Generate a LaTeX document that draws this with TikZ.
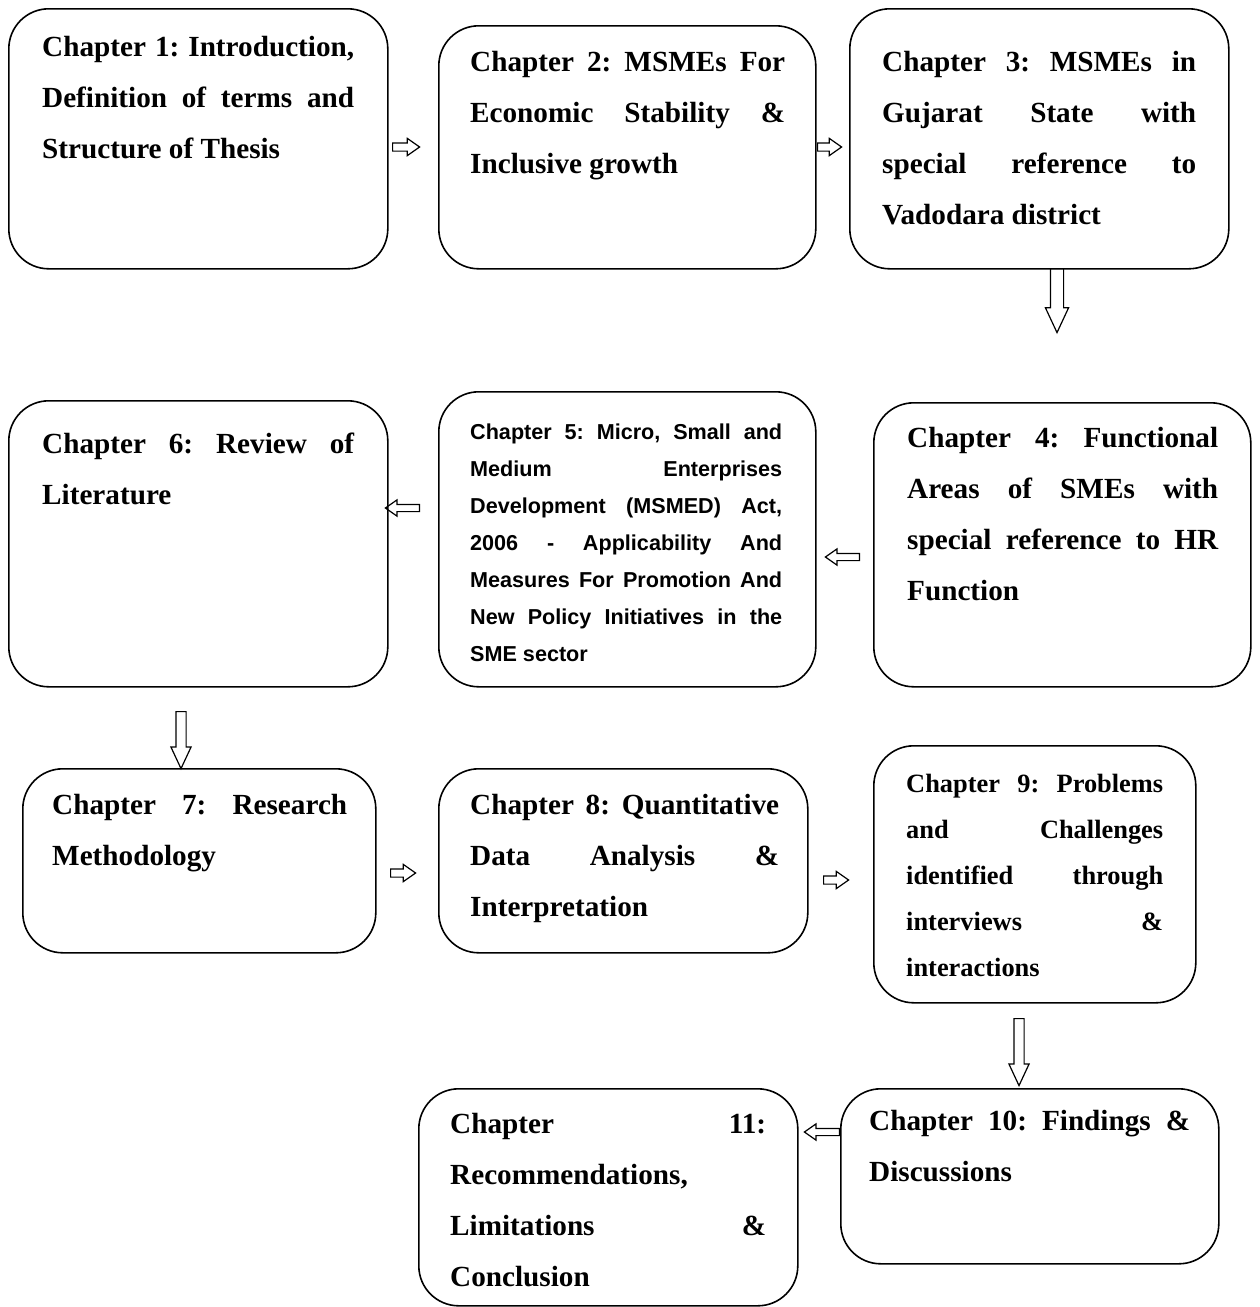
\documentclass[tikz,border=0pt]{standalone}
\usepackage{fontspec}
\setmainfont{Liberation Serif}
\newfontfamily\arialf{Liberation Sans}
\usetikzlibrary{shapes.arrows}
\hyphenpenalty=10000
\exhyphenpenalty=10000
\tolerance=10000
\hbadness=10000
\hfuzz=50pt
\frenchspacing
\begin{document}
\begin{tikzpicture}[x=1pt,y=-1pt,
  box/.style={draw, line width=1.6pt, rounded corners=40pt, anchor=north west, inner sep=0pt},
  txt/.style={anchor=north west, inner sep=0pt, align=justify, font=\bfseries\frenchspacing\fontsize{29.2}{51}\selectfont},
  txtsans/.style={anchor=north west, inner sep=0pt, align=justify, font=\arialf\bfseries\frenchspacing\fontsize{21.6}{37}\selectfont},
  txtsmall/.style={anchor=north west, inner sep=0pt, align=justify, font=\bfseries\frenchspacing\fontsize{26.4}{46}\selectfont},
  harr/.style={single arrow, draw, line width=1.2pt, inner sep=3.5pt, single arrow head extend=4.5pt, single arrow tip angle=70, minimum width=16pt, anchor=tail},
  larr/.style={harr, shape border rotate=180, minimum width=15pt, inner sep=3pt},
  varr/.style={single arrow, draw, line width=1.2pt, inner sep=5pt, single arrow head extend=5pt, single arrow tip angle=50, minimum width=20pt, shape border rotate=270, anchor=tail}
]
\useasboundingbox (0,0) rectangle (1259,1307);
% boxes
\node[box, minimum width=379pt, minimum height=260pt] (b1) at (8,8) {};
\node[box, minimum width=377pt, minimum height=243pt] (b2) at (438,25) {};
\node[box, minimum width=379pt, minimum height=260pt] (b3) at (849,8) {};
\node[box, minimum width=377pt, minimum height=284pt] (b4) at (873,402) {};
\node[box, minimum width=377pt, minimum height=295pt] (b5) at (438,391) {};
\node[box, minimum width=379pt, minimum height=286pt] (b6) at (8,400) {};
\node[box, minimum width=353pt, minimum height=184pt] (b7) at (22,768) {};
\node[box, minimum width=369pt, minimum height=184pt] (b8) at (438,768) {};
\node[box, minimum width=322pt, minimum height=257pt] (b9) at (873,745) {};
\node[box, minimum width=378pt, minimum height=175pt] (b10) at (840,1088) {};
\node[box, minimum width=379pt, minimum height=217pt] (b11) at (418,1088) {};
% texts
\node[txt, text width=312pt] (t1) at (42,36.5) {Chapter 1: Introduction,\linebreak Definition of terms and\linebreak Structure of Thesis};
\node[txt, text width=315pt] (t2) at (470,51.5) {Chapter 2: MSMEs For\linebreak Economic Stability \&\linebreak Inclusive growth};
\node[txt, text width=314pt] (t3) at (882,51.5) {Chapter 3: MSMEs in\linebreak Gujarat State with\linebreak special reference to\linebreak Vadodara district};
\node[txt, text width=311pt] (t4) at (907,427.5) {Chapter 4: Functional\linebreak Areas of SMEs with\linebreak special reference to HR\linebreak Function};
\node[txtsans, text width=312pt] (t5) at (470,424) {Chapter 5: Micro, Small and\linebreak Medium Enterprises\linebreak Development (MSMED) Act,\linebreak 2006 - Applicability And\linebreak Measures For Promotion And\linebreak New Policy Initiatives in the\linebreak SME sector};
\node[txt, text width=312pt] (t6) at (42,432.5) {Chapter 6: Review of\linebreak Literature};
\node[txt, text width=295pt] (t7) at (52,794.5) {Chapter 7: Research\linebreak Methodology};
\node[txt, text width=309pt] (t8) at (470,794.5) {Chapter 8: Quantitative\linebreak Data Analysis \&\linebreak Interpretation};
\node[txtsmall, text width=257pt] (t9) at (906,774) {Chapter 9: Problems\linebreak and Challenges\linebreak identified through\linebreak interviews \&\linebreak interactions};
\node[txt, text width=321pt] (t10) at (869,1110.5) {Chapter 10: Findings \&\linebreak Discussions};
\node[txt, text width=316pt] (t11) at (450,1113.5) {Chapter 11:\linebreak Recommendations,\linebreak Limitations \&\linebreak Conclusion};
% arrows
\node[harr, minimum height=27pt] (a12) at (392,147) {};
\node[harr, minimum height=24pt] (a23) at (817,147) {};
\node[varr, minimum height=64pt, inner sep=6pt] (a34) at (1057,268) {};
\node[larr, minimum height=34pt] (a45) at (860,557) {};
\node[larr, minimum height=34pt] (a56) at (420,508) {};
\node[varr, minimum height=57pt, inner sep=4.5pt] (a67) at (181,711) {};
\node[harr, minimum height=25pt] (a78) at (390,873) {};
\node[harr, minimum height=25pt] (a89) at (823,880) {};
\node[varr, minimum height=67pt, inner sep=4.5pt] (a910) at (1019,1018) {};
\node[larr, minimum height=35pt] (a1011) at (840,1132) {};
\end{tikzpicture}
\end{document}
